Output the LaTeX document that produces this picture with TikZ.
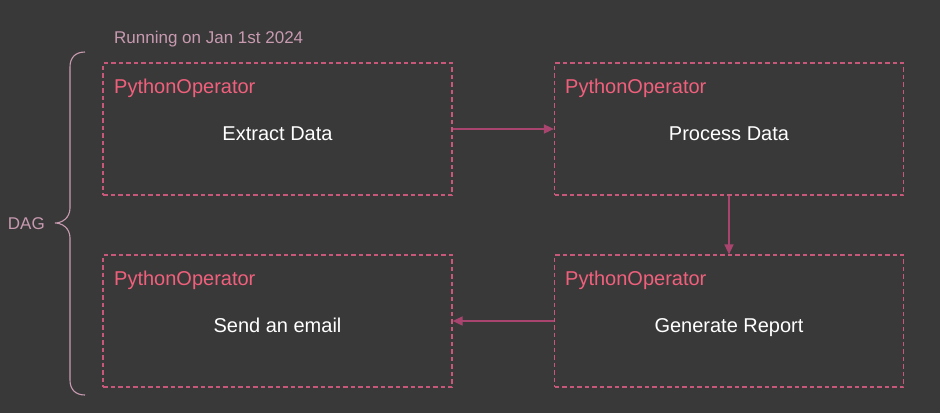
\documentclass[tikz,border=0pt]{standalone}
\usepackage{fontspec}
\setmainfont{Liberation Sans}
\usetikzlibrary{arrows.meta}
\definecolor{bg}{HTML}{393939}
\definecolor{boxc}{HTML}{C8587A}
\definecolor{arrc}{HTML}{A8446E}
\definecolor{opc}{HTML}{F0607C}
\definecolor{notec}{HTML}{C89AB0}
\begin{document}
\begin{tikzpicture}[x=1pt,y=-1pt,
  taskbox/.style={draw=boxc, dashed, dash pattern=on 4.5pt off 3pt, line width=1.2pt, minimum width=349pt, minimum height=132pt, inner sep=0pt},
  optext/.style={text=opc, font=\fontsize{20}{24}\selectfont, anchor=base west, inner sep=0pt},
  tasktext/.style={text=white, font=\fontsize{20}{24}\selectfont, anchor=base, inner sep=0pt},
  notetext/.style={text=notec, font=\fontsize{17}{20}\selectfont, inner sep=0pt},
  flow/.style={draw=arrc, line width=1.6pt, -{Triangle[length=10pt,width=9pt]}}
]
\fill[bg] (0,0) rectangle (940,413);
\useasboundingbox (0,0) rectangle (940,413);

\node[taskbox] (b1) at (277.5,129) {};
\node[taskbox] (b2) at (729,129) {};
\node[taskbox] (b3) at (277.5,321) {};
\node[taskbox] (b4) at (729,321) {};

\node[optext] (o1) at (114,93.5) {PythonOperator};
\node[optext] (o2) at (565,93.5) {PythonOperator};
\node[optext] (o3) at (114,285.5) {PythonOperator};
\node[optext] (o4) at (565,285.5) {PythonOperator};

\node[tasktext] (t1) at (277.5,140.5) {Extract Data};
\node[tasktext] (t2) at (729,140.5) {Process Data};
\node[tasktext] (t3) at (277.5,332.5) {Send an email};
\node[tasktext] (t4) at (729,332.5) {Generate Report};

\node[notetext, anchor=west] (run) at (114,39) {Running on Jan 1st 2024};
\node[notetext, anchor=east] (dag) at (45,224) {DAG};

\draw[flow] (b1.east) -- (b2.west);
\draw[flow] (b2.south) -- (b4.north);
\draw[flow] (b4.west) -- (b3.east);

\draw[notec, line width=1.1pt] (85,52) .. controls (75,52) and (70,58) .. (70,67)
  -- (70,208) .. controls (70,218) and (62,223) .. (55,223)
  .. controls (62,223) and (70,228) .. (70,238)
  -- (70,380) .. controls (70,389) and (75,395) .. (85,395);
\end{tikzpicture}
\end{document}
